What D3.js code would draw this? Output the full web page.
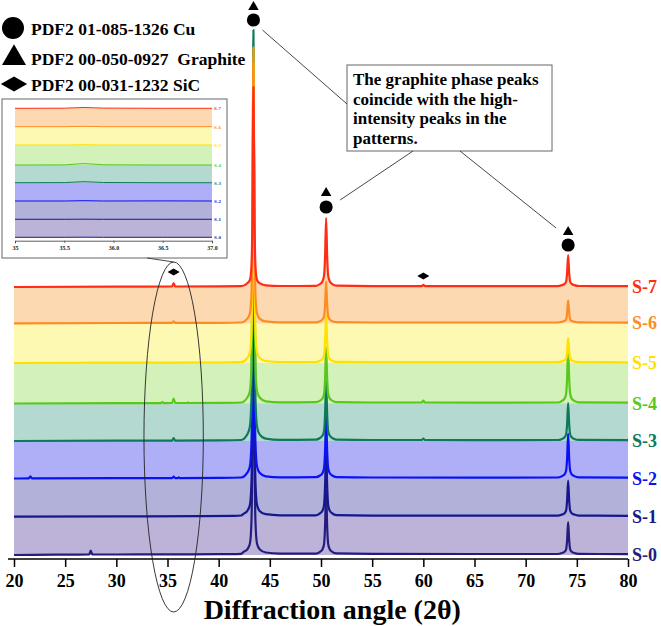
<!DOCTYPE html>
<html>
<head>
<meta charset="utf-8">
<script src="https://cdn.jsdelivr.net/npm/d3@7"></script>
<style>
body { margin: 0; background: #fff; }
text { font-family: "Liberation Serif", "Times New Roman", serif; font-weight: bold; }
</style>
</head>
<body>
<script>
//sample names, bottom to top
var samples = ["S-0", "S-1", "S-2", "S-3", "S-4", "S-5", "S-6", "S-7"];
var lineColors = ["#241c7e", "#17178d", "#0b12f2", "#0f7a5b", "#58c81b", "#ffe100", "#ff8c21", "#ff2d14"];
//fill between pattern i and i+1
var bandColors = ["#bdb3d9", "#b1b1da", "#aeaff7", "#b4d9d1", "#d2f2b9", "#fdf9b3", "#fcd9b1"];

//vertical stacking offset of each pattern (counts)
var offsets = [40, 423, 805, 1180, 1555, 1960, 2357, 2720];

//patterns: [2theta, counts above own offset]
var s0 = [[20,0],[24,3],[27.35,5],[27.5,45],[27.65,5],[30,5],[35,6],[40,8],[42.2,12],[42.45,32],
  [42.8,57],[43.05,112],[43.2,320],[43.3,1120],[43.4,3200],[43.5,1120],[43.6,320],[43.75,112],[44.0,57],[44.6,25],[46,14],
  [49.5,14],[49.9,32],[50.15,58],[50.3,110],[50.4,292],[50.5,650],[50.6,292],[50.7,110],[50.85,58],[51.1,32],[51.5,16],
  [55,11],[65,10],[73.1,10],[73.55,20],[73.8,33],[73.95,56],[74.05,149],[74.15,330],[74.25,149],[74.35,56],[74.5,33],[74.75,20],[75.2,11],[80,9]];
var s1 = [[20,0],[30,3],[38,5],[41.5,8],[42.2,12],[42.45,30],
  [42.8,58],[43.05,116],[43.2,330],[43.3,1155],[43.4,3300],[43.5,1155],[43.6,330],[43.75,116],[44.0,58],[44.6,25],[46,14],
  [49.5,14],[49.9,33],[50.15,61],[50.3,119],[50.4,315],[50.5,700],[50.6,315],[50.7,119],[50.85,61],[51.1,33],[51.5,16],
  [55,11],[65,10],[73.1,10],[73.55,21],[73.8,35],[73.95,61],[74.05,162],[74.15,360],[74.25,162],[74.35,61],[74.5,35],[74.75,21],[75.2,11],[80,9]];
var s2 = [[20,0],[21.45,2],[21.6,22],[21.75,2],[30,3],[35.45,4],[35.6,18],[35.75,4],[36.0,4],[36.1,12],[36.2,4],[40,6],[42.2,10],
  [42.8,58],[43.05,119],[43.2,340],[43.3,1190],[43.4,3400],[43.5,1190],[43.6,340],[43.75,119],[44.0,58],[44.6,22],[46,12],
  [49.5,13],[49.9,30],[50.15,55],[50.3,105],[50.4,279],[50.5,620],[50.6,279],[50.7,105],[50.85,55],[51.1,30],[51.5,14],
  [55,10],[65,9],[73.1,10],[73.55,24],[73.8,42],[73.95,77],[74.05,203],[74.15,450],[74.25,203],[74.35,77],[74.5,42],[74.75,24],[75.2,11],[80,8]];
var s3 = [[20,0],[30,3],[35.45,4],[35.6,30],[35.75,4],[40,6],[42.2,10],
  [42.8,67],[43.05,144],[43.2,411],[43.3,1440],[43.4,4110],[43.5,1440],[43.6,411],[43.75,144],[44.0,67],[44.6,24],[46,12],
  [49.5,13],[49.9,30],[50.15,54],[50.3,102],[50.4,270],[50.5,600],[50.6,270],[50.7,102],[50.85,54],[51.1,30],[51.5,14],
  [55,10],[59.85,10],[60.0,25],[60.15,10],[65,9],[73.1,10],[73.55,21],[73.8,37],[73.95,65],[74.05,171],[74.15,380],[74.25,171],[74.35,65],[74.5,37],[74.75,21],[75.2,11],[80,8]];
var s4 = [[20,0],[30,3],[34.35,4],[34.5,14],[34.65,4],[35.45,5],[35.6,50],[35.75,5],[36.9,5],[37.0,10],[37.1,5],[40,6],[42.2,10],
  [42.8,60],[43.05,124],[43.2,355],[43.3,1243],[43.4,3550],[43.5,1243],[43.6,355],[43.75,124],[44.0,60],[44.6,22],[46,12],
  [49.5,13],[49.9,28],[50.15,51],[50.3,95],[50.4,252],[50.5,560],[50.6,252],[50.7,95],[50.85,51],[51.1,28],[51.5,14],
  [55,10],[59.85,10],[60.0,28],[60.15,10],[65,9],[73.1,10],[73.55,27],[73.8,49],[73.95,95],[74.05,252],[74.15,560],[74.25,252],[74.35,95],[74.5,49],[74.75,27],[75.2,11],[80,8]];
var s5 = [[20,0],[30,3],[40,5],[42.2,8],
  [42.8,50],[43.05,105],[43.2,300],[43.3,1050],[43.4,3000],[43.5,1050],[43.6,300],[43.75,105],[44.0,50],[44.6,20],[46,10],
  [49.5,10],[49.9,22],[50.15,42],[50.3,82],[50.4,216],[50.5,480],[50.6,216],[50.7,82],[50.85,42],[51.1,22],[51.5,11],
  [55,8],[65,8],[73.1,8],[73.55,16],[73.8,26],[73.95,43],[74.05,113],[74.15,250],[74.25,113],[74.35,43],[74.5,26],[74.75,16],[75.2,9],[80,7]];
var s6 = [[20,0],[30,3],[35.45,4],[35.6,20],[35.75,4],[40,5],[42.2,8],
  [42.8,47],[43.05,97],[43.2,276],[43.3,966],[43.4,2760],[43.5,966],[43.6,276],[43.75,97],[44.0,47],[44.6,19],[46,10],
  [49.5,10],[49.9,21],[50.15,39],[50.3,71],[50.4,189],[50.5,420],[50.6,189],[50.7,71],[50.85,39],[51.1,21],[51.5,11],
  [55,8],[65,8],[73.1,8],[73.55,15],[73.8,24],[73.95,39],[74.05,104],[74.15,230],[74.25,104],[74.35,39],[74.5,24],[74.75,15],[75.2,9],[80,7]];
var s7 = [[20,0],[30,3],[35.45,5],[35.6,40],[35.75,5],[40,6],[42.2,8],
  [42.8,38],[43.05,70],[43.2,200],[43.3,700],[43.4,2000],[43.5,700],[43.6,200],[43.75,70],[44.0,38],[44.6,17],[46,10],
  [49.5,11],[49.9,30],[50.15,57],[50.3,117],[50.4,310],[50.5,690],[50.6,310],[50.7,117],[50.85,57],[51.1,30],[51.5,13],
  [55,9],[59.85,9],[60.0,22],[60.15,9],[65,9],[73.1,9],[73.55,19],[73.8,31],[73.95,54],[74.05,144],[74.15,320],[74.25,144],[74.35,54],[74.5,31],[74.75,19],[75.2,10],[80,8]];
var patterns = [s0, s1, s2, s3, s4, s5, s6, s7];

//inset: 35-37 degrees, own offsets
var insetOffsets = [34, 214, 397, 580, 757, 957, 1140, 1324];
var i0 = [[35,0],[35.5,0],[35.7,1],[35.9,0],[36.5,0],[37,0]];
var i1 = [[35,0],[35.5,0],[35.7,1],[35.9,0],[36.5,0],[37,0]];
var i2 = [[35,0],[35.5,0],[35.7,3],[35.9,0],[36.5,1],[37,0]];
var i3 = [[35,0],[35.5,1],[35.7,10],[35.9,2],[36.5,0],[37,0]];
var i4 = [[35,0],[35.5,1],[35.7,14],[35.9,2],[36.5,0],[37,0]];
var i5 = [[35,0],[35.5,0],[35.7,3],[35.9,0],[36.5,0],[37,0]];
var i6 = [[35,0],[35.5,0],[35.7,4],[35.9,0],[36.5,0],[37,0]];
var i7 = [[35,0],[35.5,1],[35.7,8],[35.9,2],[36.5,0],[37,0]];
var insetPatterns = [i0, i1, i2, i3, i4, i5, i6, i7];

//phase markers: [2theta, counts]
var cuMarks = [[43.4, 5390], [50.5, 3520], [74.15, 3140]];
var graphiteMarks = [[43.4, 5520], [50.5, 3660], [74.15, 3270]];
var sicMarks = [[35.6, 2870], [60.0, 2830]];

var legendLabels = ["PDF2 01-085-1326 Cu", "PDF2 00-050-0927\u00a0 Graphite", "PDF2 00-031-1232 SiC"];
var noteLines = ["The graphite phase peaks", "coincide with the high-", "intensity peaks in the", "patterns."];
var majorTicks = d3.range(20, 81, 5);
var minorTicks = d3.range(22.5, 80, 5);
var insetMajor = [35, 35.5, 36, 36.5, 37];
var insetMinor = [35.25, 35.75, 36.25, 36.75];

window.onload = drawChart();

function drawChart(){
    var width = 661, height = 626;

    var svg = d3.select("body")
        .append("svg")
        .attr("width", width)
        .attr("height", height);

    //main scales
    var x = d3.scaleLinear().domain([20, 80]).range([14, 628]);
    var y = d3.scaleLinear().domain([0, 5590]).range([559, 0]);

    //band fills between patterns
    bandColors.forEach(function(c, i){
        var area = d3.area()
            .x(function(d){ return x(d[0]); })
            .y0(y(offsets[i]))
            .y1(function(d){ return y(offsets[i + 1] + d[1]); })
            .curve(d3.curveMonotoneX);
        svg.append("path")
            .datum(patterns[i + 1])
            .attr("d", area)
            .attr("fill", c);
    });

    //pattern lines, S-7 drawn last
    patterns.forEach(function(p, i){
        var line = d3.line()
            .x(function(d){ return x(d[0]); })
            .y(function(d){ return y(offsets[i] + d[1]); })
            .curve(d3.curveMonotoneX);
        svg.append("path")
            .datum(p)
            .attr("d", line)
            .attr("fill", "none")
            .attr("stroke", lineColors[i])
            .attr("stroke-width", 2.2)
            .attr("stroke-linejoin", "round");
    });

    //sample labels on the right
    svg.selectAll(".sampleLabel")
        .data(samples)
        .enter()
        .append("text")
        .attr("class", "sampleLabel")
        .attr("x", x(80) + 4)
        .attr("y", function(d, i){ return y(offsets[i]) + 6; })
        .attr("font-size", 18)
        .attr("fill", function(d, i){ return lineColors[i]; })
        .text(function(d){ return d; });

    //x axis
    var axisG = svg.append("g")
        .attr("transform", "translate(0," + y(0) + ")");
    axisG.call(d3.axisBottom(x).tickValues(minorTicks).tickSize(4).tickFormat(""));
    axisG.call(d3.axisBottom(x).tickValues(majorTicks).tickSize(8).tickPadding(7).tickSizeOuter(0));
    axisG.selectAll("path.domain").remove();
    axisG.append("line")
        .attr("x1", x(20) - 6).attr("x2", x(80))
        .attr("stroke", "#000").attr("stroke-width", 1.6);
    axisG.selectAll(".tick line").attr("stroke", "#000").attr("stroke-width", 1.5);
    axisG.selectAll(".tick text")
        .attr("font-size", 18)
        .attr("font-family", "Liberation Serif, serif")
        .attr("font-weight", "bold")
        .attr("fill", "#000");

    svg.append("text")
        .attr("x", x(51.1))
        .attr("y", 619)
        .attr("text-anchor", "middle")
        .attr("font-size", 28)
        .text("Diffraction angle (2\u03b8)");

    //phase markers
    var sym = d3.symbol();
    svg.selectAll(".cu").data(cuMarks).enter().append("path")
        .attr("d", sym.type(d3.symbolCircle).size(135)())
        .attr("transform", function(d){ return "translate(" + x(d[0]) + "," + y(d[1]) + ")"; });
    svg.selectAll(".gr").data(graphiteMarks).enter().append("path")
        .attr("d", sym.type(d3.symbolTriangle).size(48)())
        .attr("transform", function(d){ return "translate(" + x(d[0]) + "," + y(d[1]) + ")"; });
    svg.selectAll(".sic").data(sicMarks).enter().append("path")
        .attr("d", sym.type(d3.symbolDiamond).size(42)())
        .attr("transform", function(d){ return "translate(" + x(d[0]) + "," + y(d[1]) + ") rotate(90)"; });

    //ellipse around SiC peak
    svg.append("ellipse")
        .attr("cx", x(35.6))
        .attr("cy", y(1220))
        .attr("rx", x(38.5) - x(35.6))
        .attr("ry", 175)
        .attr("fill", "none")
        .attr("stroke", "#222")
        .attr("stroke-width", 0.9);

    //annotation box
    var note = { x: 347, y: 65, w: 205, h: 86 };
    svg.append("rect")
        .attr("x", note.x).attr("y", note.y)
        .attr("width", note.w).attr("height", note.h)
        .attr("fill", "#fff")
        .attr("stroke", "#666")
        .attr("stroke-width", 1);
    svg.selectAll(".note").data(noteLines).enter().append("text")
        .attr("x", note.x + 6)
        .attr("y", function(d, i){ return note.y + 20 + i * 19.7; })
        .attr("font-size", 17)
        .text(function(d){ return d; });

    //leader lines from the box to the peak markers
    var leaders = [
        [x(43.4) + 9, y(cuMarks[0][1]) + 10, note.x, note.y + 39],
        [x(50.5) + 14, y(cuMarks[1][1]) - 7, note.x + 66, note.y + note.h],
        [x(74.15) - 12, y(graphiteMarks[2][1]) - 4, note.x + 113, note.y + note.h]
    ];
    svg.selectAll(".leader").data(leaders).enter().append("line")
        .attr("x1", function(d){ return d[0]; })
        .attr("y1", function(d){ return d[1]; })
        .attr("x2", function(d){ return d[2]; })
        .attr("y2", function(d){ return d[3]; })
        .attr("stroke", "#333")
        .attr("stroke-width", 0.9);

    //legend
    var legend = svg.append("g");
    var legendTypes = [d3.symbolCircle, d3.symbolTriangle, d3.symbolDiamond];
    var legendSizes = [380, 250, 200];
    var legendY = [28, 58, 84];
    legendLabels.forEach(function(t, i){
        legend.append("path")
            .attr("d", d3.symbol().type(legendTypes[i]).size(legendSizes[i])())
            .attr("transform", "translate(" + (i == 0 ? 13 : 14) + "," + legendY[i] + ")" + (i == 2 ? " rotate(90)" : ""));
        legend.append("text")
            .attr("x", 31)
            .attr("y", [35, 65, 91][i])
            .attr("font-size", 17.5)
            .text(t);
    });

    //inset
    var inset = svg.append("g");
    inset.append("rect")
        .attr("x", 2).attr("y", 99)
        .attr("width", 225).attr("height", 159)
        .attr("fill", "#fff")
        .attr("stroke", "#666")
        .attr("stroke-width", 1);

    var ix = d3.scaleLinear().domain([35, 37]).range([15, 212]);
    var iy = d3.scaleLinear().domain([0, 1400]).range([240.7, 100.7]);

    bandColors.forEach(function(c, i){
        var area = d3.area()
            .x(function(d){ return ix(d[0]); })
            .y0(iy(insetOffsets[i]))
            .y1(function(d){ return iy(insetOffsets[i + 1] + d[1]); })
            .curve(d3.curveMonotoneX);
        inset.append("path").datum(insetPatterns[i + 1]).attr("d", area).attr("fill", c);
    });
    insetPatterns.forEach(function(p, i){
        var line = d3.line()
            .x(function(d){ return ix(d[0]); })
            .y(function(d){ return iy(insetOffsets[i] + d[1]); })
            .curve(d3.curveMonotoneX);
        inset.append("path").datum(p).attr("d", line)
            .attr("fill", "none")
            .attr("stroke", lineColors[i])
            .attr("stroke-width", 1);
    });
    inset.selectAll(".insetLabel").data(samples).enter().append("text")
        .attr("x", ix(37) + 2)
        .attr("y", function(d, i){ return iy(insetOffsets[i]) + 2; })
        .attr("font-size", 5)
        .attr("fill", function(d, i){ return lineColors[i]; })
        .text(function(d){ return d; });

    var insetAxis = inset.append("g")
        .attr("transform", "translate(0," + iy(0) + ")");
    insetAxis.call(d3.axisBottom(ix).tickValues(insetMinor).tickSize(1.5).tickFormat(""));
    insetAxis.call(d3.axisBottom(ix).tickValues(insetMajor).tickSize(2.5).tickPadding(3)
        .tickFormat(function(d){ return d == 35 ? "35" : d.toFixed(1); }));
    insetAxis.selectAll("path.domain").attr("stroke", "#333").attr("stroke-width", 0.8);
    insetAxis.selectAll(".tick line").attr("stroke", "#333").attr("stroke-width", 0.6);
    insetAxis.selectAll(".tick text")
        .attr("font-size", 6)
        .attr("font-family", "Liberation Serif, serif")
        .attr("font-weight", "bold")
        .attr("fill", "#222");

    //connector from inset to ellipse
    svg.append("line")
        .attr("x1", 147).attr("y1", 258)
        .attr("x2", x(35.6)).attr("y2", y(1220) - 175)
        .attr("stroke", "#333")
        .attr("stroke-width", 0.9);
};
</script>
</body>
</html>
